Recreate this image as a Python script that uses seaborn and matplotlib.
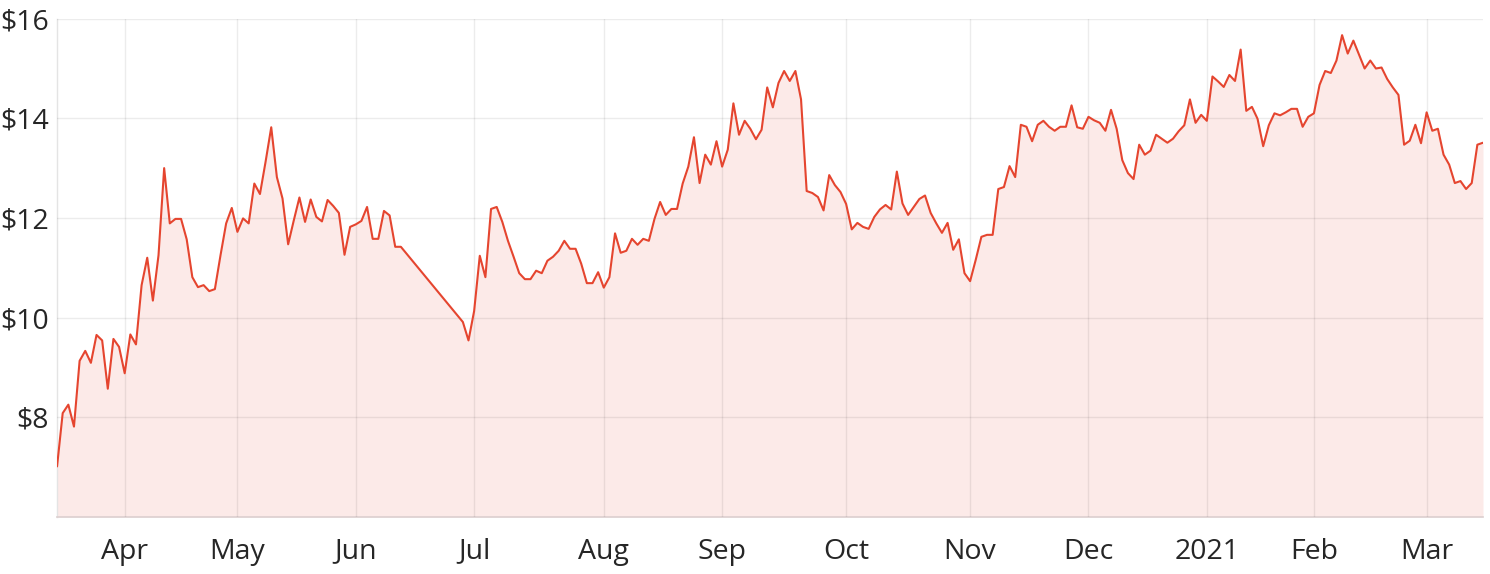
import numpy as np
import pandas as pd
import seaborn as sns
import matplotlib.pyplot as plt

# ASX closing prices, one value per trading day (None = no data for that day)
prices_mar20 = [7.01, 8.08, 8.25, 7.81, 9.13, 9.33, 9.09, 9.65, 9.54, 8.57, 9.57, 9.41]
prices_apr20 = [8.88, 9.66, 9.46, 10.65, 11.20, 10.34, 11.25, 13.00, 11.89, 11.98,
                11.98, 11.57, 10.81, 10.61, 10.65, 10.53, 10.57, 11.25, 11.89, 12.20]
prices_may20 = [11.72, 11.99, 11.89, 12.69, 12.48, 13.13, 13.82, 12.82, 12.39, 11.47,
                11.95, 12.41, 11.92, 12.37, 12.02, 11.93, 12.36, 12.24, 12.10, 11.26, 11.82]
prices_jun20 = [11.87, 11.94, 12.22, 11.58, 11.58, 12.14, 12.05, 11.42, 11.42,
                None, None, None, None, None, None, None, None, None, None,
                9.91, 9.54]
prices_jul20 = [10.13, 11.24, 10.81, 12.18, 12.22, 11.92, 11.54, 11.22, 10.89, 10.77,
                10.77, 10.94, 10.89, 11.14, 11.22, 11.34, 11.54, 11.38, 11.38, 11.08,
                10.69, 10.69, 10.91]
prices_aug20 = [10.60, 10.81, 11.69, 11.30, 11.34, 11.58, 11.46, 11.58, 11.54, 11.98,
                12.32, 12.06, 12.18, 12.18, 12.69, 13.03, 13.62, 12.70, 13.27, 13.07, 13.54]
prices_sep20 = [13.03, 13.37, 14.30, 13.67, 13.95, 13.79, 13.58, 13.77, 14.62, 14.22,
                14.71, 14.95, 14.75, 14.95, 14.38, 12.54, 12.50, 12.42, 12.15, 12.86,
                12.66, 12.52]
prices_oct20 = [12.28, 11.77, 11.90, 11.82, 11.78, 12.02, 12.17, 12.26, 12.17, 12.93,
                12.29, 12.06, 12.22, 12.38, 12.45, 12.10, 11.89, 11.70, 11.90, 11.36,
                11.57, 10.89]
prices_nov20 = [10.73, 11.16, 11.62, 11.66, 11.66, 12.58, 12.62, 13.04, 12.82, 13.87,
                13.83, 13.54, 13.87, 13.95, 13.83, 13.75, 13.83, 13.83, 14.26, 13.82, 13.79]
prices_dec20 = [14.03, 13.96, 13.91, 13.75, 14.17, 13.79, 13.16, 12.90, 12.78, 13.47,
                13.27, 13.35, 13.67, 13.59, 13.51, 13.59, 13.74, 13.86, 14.38, 13.91, 14.07]
prices_jan21 = [13.95, 14.84, 14.74, 14.63, 14.87, 14.75, 15.38, 14.15, 14.23, 13.99,
                13.44, 13.86, 14.10, 14.06, 14.12, 14.19, 14.19, 13.83, 14.03]
prices_feb21 = [14.10, 14.67, 14.95, 14.91, 15.16, 15.67, 15.30, 15.56, 15.28, 15.00,
                15.16, 15.00, 15.02, 14.79, 14.62, 14.47, 13.47, 13.55, 13.87, 13.50]
prices_mar21 = [14.12, 13.75, 13.79, 13.27, 13.07, 12.70, 12.74, 12.58, 12.70, 13.47, 13.51]

asx_holidays = ['2020-04-10', '2020-04-13', '2020-06-08', '2020-12-25',
                '2020-12-28', '2021-01-01', '2021-01-26']
month_labels = ['Apr', 'May', 'Jun', 'Jul', 'Aug', 'Sep', 'Oct', 'Nov', 'Dec',
                '2021', 'Feb', 'Mar']
price_ticks = [8, 10, 12, 14, 16]

line_color = '#e5452f'

# the chart spaces trading days evenly, so x is the trading-day number
days = pd.bdate_range('2020-03-16', '2021-03-15', freq='C', holidays=asx_holidays)
prices = (prices_mar20 + prices_apr20 + prices_may20 + prices_jun20 + prices_jul20
          + prices_aug20 + prices_sep20 + prices_oct20 + prices_nov20 + prices_dec20
          + prices_jan21 + prices_feb21 + prices_mar21)
df = pd.DataFrame({'date': days, 'price': pd.to_numeric(pd.Series(prices), errors='coerce')})
df['day'] = np.arange(len(df))
month_start = df.groupby(df['date'].dt.to_period('M'))['day'].min().iloc[1:]
shown = df.dropna()

sns.set_theme(style='white')
plt.rcParams['font.family'] = ['Open Sans', 'DejaVu Sans']

fig = plt.figure(figsize=(14.9, 5.74), dpi=100)
ax = fig.add_axes([0.0383, 0.0998, 0.957, 0.8676])

ax.fill_between(shown['day'], shown['price'], 6, color=line_color, alpha=0.11,
                linewidth=0, zorder=1)
sns.lineplot(data=shown, x='day', y='price', color=line_color, linewidth=1.5,
             ax=ax, zorder=3)

ax.set_xlim(0, len(df) - 1)
ax.set_ylim(6, 16)
ax.set_xticks(month_start.values)
ax.set_xticklabels(month_labels)
ax.set_yticks(price_ticks)
ax.set_yticklabels(['${}'.format(v) for v in price_ticks])
ax.set_xlabel('')
ax.set_ylabel('')

ax.set_axisbelow(False)
ax.grid(True, color='black', alpha=0.075, linewidth=1.0)
ax.tick_params(axis='both', length=0, labelsize=20.5, labelcolor='#262626')
ax.tick_params(axis='x', pad=15)
ax.tick_params(axis='y', pad=6)

for side in ['top', 'right']:
    ax.spines[side].set_visible(False)
ax.spines['left'].set_color('#e4e4e4')
ax.spines['bottom'].set_color('#dccfcf')
ax.spines['left'].set_linewidth(1.0)
ax.spines['bottom'].set_linewidth(1.2)

fig.savefig('out.png', dpi=100)
